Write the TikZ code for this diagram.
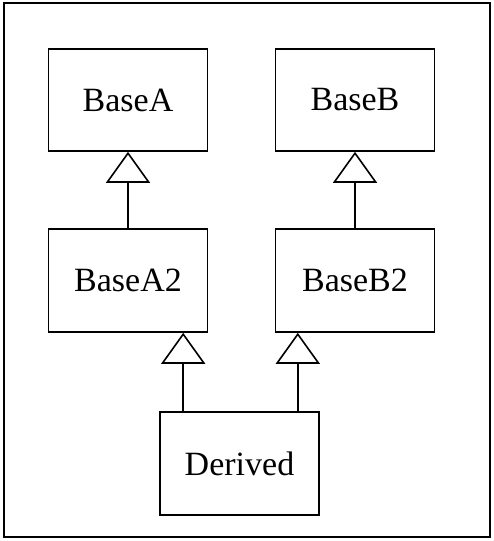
\documentclass[tikz,border=0pt]{standalone}
\usepackage{fontspec}
\setmainfont{Liberation Serif}
\usetikzlibrary{arrows.meta,positioning}

\begin{document}
\begin{tikzpicture}[x=1pt,y=-1pt,line width=1.6pt,
  font=\fontsize{34}{40}\selectfont,
  cls/.style={draw,rectangle,minimum width=159pt,minimum height=102pt,inner sep=0pt},
  inherit/.style={-{Triangle[open,length=31pt,width=44pt]}}]
  \useasboundingbox (0,0) rectangle (494,541);
  \draw[line width=1.9pt] (4,3) rectangle (490,537);
  % classes
  \node[cls] (baseA) at (128,100) {BaseA};
  \node[cls] (baseB) at (355,100) {BaseB};
  \node[cls,minimum height=103pt] (baseA2) at (128,280.5) {BaseA2};
  \node[cls,minimum height=103pt] (baseB2) at (355,280.5) {BaseB2};
  \node[cls,minimum height=103pt] (derived) at (239.5,463.5) {Derived};
  % generalisations
  \draw[inherit] (baseA2.north) -- (baseA.south);
  \draw[inherit] (baseB2.north) -- (baseB.south);
  \draw[inherit] ([xshift=24pt]derived.north west) -- ([xshift=24pt]derived.north west |- baseA2.south);
  \draw[inherit] ([xshift=-22pt]derived.north east) -- ([xshift=-22pt]derived.north east |- baseB2.south);
\end{tikzpicture}
\end{document}
